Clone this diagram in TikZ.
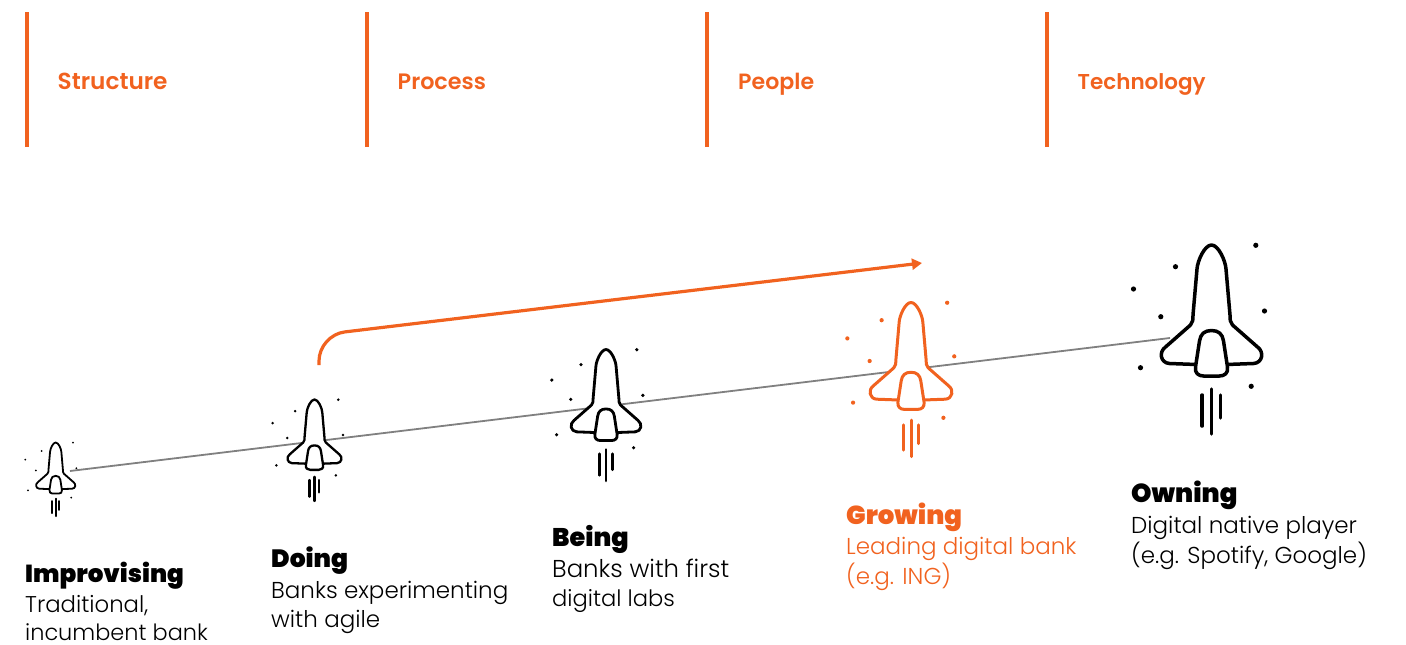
\documentclass[tikz,border=0pt]{standalone}
\usepackage{fontspec}
\usetikzlibrary{arrows.meta}
\setmainfont{Poppins}[UprightFont={* Light},BoldFont={* Black}]
\newfontfamily\headfont{Poppins}[UprightFont={* SemiBold}]
\definecolor{ing}{HTML}{F1621F}
\definecolor{ink}{HTML}{000000}
\tikzset{
 barline/.style={ing,line width=3.5},
 headtext/.style={anchor=base west,inner sep=0,text=ing,font=\headfont\fontsize{#1}{26}\selectfont},
 titletext/.style={anchor=base west,inner sep=0,font=\bfseries\fontsize{#1}{29}\selectfont},
 bodytext/.style={anchor=base west,inner sep=0,font=\fontsize{#1}{29}\selectfont},
 bodytext/.default=23,
 trend/.style={draw=black!50,line width=1.8},
 jump/.style={ing,line width=3.2,-{Triangle[length=10,width=11]},rounded corners=26},
}
\newcommand{\rocketdraw}[5]{% x,y,scale,colour,line width
\begin{scope}[shift={(#1,#2)},scale=#3]
 \foreach \sx/\sy in {44.3/0.3,-36/21.7,-78/44,-50.7/71.7,53/66,-71/122.7,39.7/141.3}
   \fill[#4] (\sx,\sy) circle[radius=2.6];
 \filldraw[fill=white,draw=#4,line width=#5,line join=round]
  (-15,119.5) -- (-42,118.5) .. controls (-51,118) and (-53,107) .. (-46,102)
  -- (-21,80) .. controls (-18.5,77.5) and (-18.5,74) .. (-18.5,70)
  -- (-14.5,24) .. controls (-14,16) and (-7,0) .. (0,0)
  .. controls (7,0) and (14,16) .. (14.5,24)
  -- (18.5,70) .. controls (18.5,74) and (18.5,77.5) .. (21,80)
  -- (46,102) .. controls (53,107) and (51,118) .. (42,118.5) -- (15,119.5);
 \filldraw[fill=white,draw=#4,line width=#5,line join=round]
  (0,85.5) .. controls (-7,85.5) and (-11,89) .. (-12,96)
  -- (-16,122) .. controls (-17,128) and (-13,131) .. (-8,131)
  -- (8,131) .. controls (13,131) and (17,128) .. (16,122)
  -- (12,96) .. controls (11,89) and (7,85.5) .. (0,85.5) -- cycle;
 \draw[#4,line width=#5,line cap=round] (0,144)--(0,189) (-9.3,150)--(-9.3,181) (9,150)--(9,173);
\end{scope}}
\begin{document}
\begin{tikzpicture}[x=1pt,y=-1pt]
\useasboundingbox (0,0) rectangle (1406,645);
% header
\foreach \bx in {27,367,707,1047} \draw[barline] (\bx,12) -- (\bx,146.5);
\node[headtext=23.2] (hs) at (57.5,89.3) {Structure};
\node[headtext=22.3] (hp) at (397.5,89.3) {Process};
\node[headtext=22.1] (hq) at (738,89.3) {People};
\node[headtext=21.5] (ht) at (1077.5,89.3) {Technology};
% connectors
\coordinate (lineA) at (70,471);
\coordinate (lineB) at (1170,338);
\draw[trend] (lineA) -- (lineB);
\coordinate (jumpA) at (319,365);
\coordinate (jumpC) at (319,335);
\coordinate (jumpB) at (922,263);
\draw[jump] (jumpA) -- (jumpC) -- (jumpB);
% rockets
\rocketdraw{55.7}{442.5}{0.39}{ink}{1.8}
\rocketdraw{314.5}{399.5}{0.537}{ink}{2.3}
\rocketdraw{606}{349.5}{0.695}{ink}{2.8}
\rocketdraw{911}{302.5}{0.816}{ing}{3.0}
\rocketdraw{1211.5}{245}{1}{ink}{3.5}
% labels
\node[titletext=24.6] (t1) at (25,582) {Improvising};
\node[bodytext=22.8] (b1a) at (25,612) {Traditional,};
\node[bodytext=22.4] (b1b) at (25,640) {incumbent bank};
\node[titletext=25] (t2) at (271,567) {Doing};
\node[bodytext] (b2a) at (271,598) {Banks experimenting};
\node[bodytext] (b2b) at (271,627) {with agile};
\node[titletext=25.5] (t3) at (552,546) {Being};
\node[bodytext=24.4] (b3a) at (552,577) {Banks with first};
\node[bodytext=22.6] (b3b) at (552,606) {digital labs};
\node[titletext=26,text=ing] (t4) at (846,524.5) {Growing};
\node[bodytext,text=ing] (b4a) at (846,554) {Leading digital bank};
\node[bodytext=23,text=ing] (b4b) at (846,584) {(e.g. ING)};
\node[titletext=26] (t5) at (1131,502.5) {Owning};
\node[bodytext] (b5a) at (1131,533) {Digital native player};
\node[bodytext] (b5b) at (1131,563) {(e.g. Spotify, Google)};
\end{tikzpicture}
\end{document}
